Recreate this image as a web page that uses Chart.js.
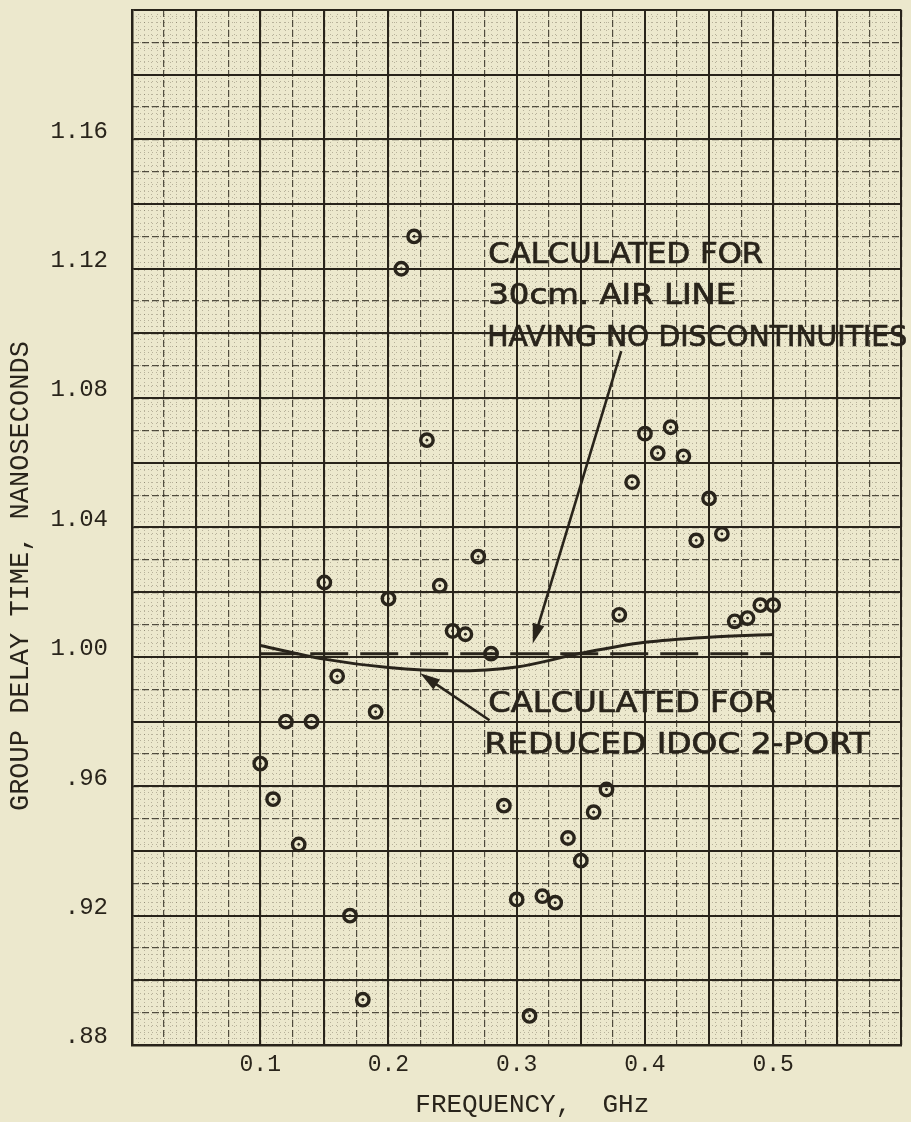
<!DOCTYPE html>
<html>
<head>
<meta charset="utf-8">
<script src="https://cdn.jsdelivr.net/npm/chart.js@4.4.0/dist/chart.umd.min.js"></script>
<style>
  html, body { margin: 0; padding: 0; background: #ece8cd; overflow: hidden; }
</style>
</head>
<body>
<canvas id="myChart" width="911" height="1122"></canvas>
<script>
// measured group delay, one reading every 0.01 GHz
const frequency = [
  0.10, 0.11, 0.12, 0.13, 0.14, 0.15, 0.16, 0.17, 0.18, 0.19,
  0.20, 0.21, 0.22, 0.23, 0.24, 0.25, 0.26, 0.27, 0.28, 0.29,
  0.30, 0.31, 0.32, 0.33, 0.34, 0.35, 0.36, 0.37, 0.38, 0.39,
  0.40, 0.41, 0.42, 0.43, 0.44, 0.45, 0.46, 0.47, 0.48, 0.49,
  0.50
];
const groupDelay = [
  0.967, 0.956, 0.980, 0.942, 0.980, 1.023, 0.994, 0.920, 0.894, 0.983,
  1.018, 1.120, 1.130, 1.067, 1.022, 1.008, 1.007, 1.031, 1.001, 0.954,
  0.925, 0.889, 0.926, 0.924, 0.944, 0.937, 0.952, 0.959, 1.013, 1.054,
  1.069, 1.063, 1.071, 1.062, 1.036, 1.049, 1.038, 1.011, 1.012, 1.016,
  1.016
];

// calculated for reduced IDOC 2-port
const idocFreq = [0.10, 0.15, 0.20, 0.25, 0.30, 0.35, 0.40, 0.45, 0.50];
const idocDelay = [1.0035, 0.9993, 0.9967, 0.9957, 0.9969, 1.0011, 1.0045, 1.0061, 1.0069];

// calculated for 30 cm air line
const airFreq = [0.10, 0.50];
const airDelay = [1.001, 1.001];

const xTicks = [0.1, 0.2, 0.3, 0.4, 0.5];
const yTicks = [0.88, 0.92, 0.96, 1.00, 1.04, 1.08, 1.12, 1.16];

const ink = '#29241b';
const paper = '#ece8cd';

function pairs(xs, ys) {
  return xs.map((v, i) => ({x: v, y: ys[i]}));
}

function findTick(list, v) {
  return list.find(t => Math.abs(t - v) < 1e-6);
}

// no automatic label padding, the plot area is set by layout.padding
function noPad(s) {
  s.paddingTop = 0;
  s.paddingBottom = 0;
  s.paddingLeft = 0;
  s.paddingRight = 0;
}

// extra scales only used to draw the graph paper rulings
function ruling(axis, step, color, width, dash, z) {
  return {
    type: 'linear',
    position: axis === 'x' ? 'bottom' : 'left',
    min: axis === 'x' ? 0 : 0.88,
    max: axis === 'x' ? 0.6 : 1.20,
    ticks: {display: false, stepSize: step},
    grid: {color: color, lineWidth: width, drawTicks: false, z: z},
    border: {display: false, dash: dash},
    afterFit: s => {
      if (axis === 'x') s.height = 0; else s.width = 0;
      noPad(s);
    }
  };
}

const paperPlugin = {
  id: 'paper',
  beforeDraw(chart) {
    const ctx = chart.ctx;
    ctx.save();
    ctx.fillStyle = paper;
    ctx.fillRect(0, 0, chart.width, chart.height);
    ctx.restore();
  }
};

function letter(ctx, text, px, py, w) {
  ctx.save();
  const m = ctx.measureText(text).width;
  ctx.translate(px, py);
  ctx.scale(w / m, 1);
  ctx.fillText(text, 0, 0);
  ctx.lineWidth = 0.7;
  ctx.strokeText(text, 0, 0);
  ctx.restore();
}

function arrow(ctx, x1, y1, x2, y2) {
  const a = Math.atan2(y2 - y1, x2 - x1);
  const len = 20, half = 6;
  ctx.beginPath();
  ctx.moveTo(x1, y1);
  ctx.lineTo(x2 - Math.cos(a) * len * 0.6, y2 - Math.sin(a) * len * 0.6);
  ctx.stroke();
  ctx.beginPath();
  ctx.moveTo(x2, y2);
  ctx.lineTo(x2 - Math.cos(a) * len - Math.sin(a) * half, y2 - Math.sin(a) * len + Math.cos(a) * half);
  ctx.lineTo(x2 - Math.cos(a) * len + Math.sin(a) * half, y2 - Math.sin(a) * len - Math.cos(a) * half);
  ctx.closePath();
  ctx.fill();
}

const notesPlugin = {
  id: 'notes',
  afterDatasetsDraw(chart) {
    const {ctx, scales: {x, y}} = chart;
    ctx.save();
    ctx.fillStyle = ink;
    ctx.strokeStyle = ink;
    ctx.font = '28px "DejaVu Sans"';
    ctx.textBaseline = 'alphabetic';

    letter(ctx, 'CALCULATED FOR', x.getPixelForValue(0.2778), y.getPixelForValue(1.1217), 275);
    letter(ctx, '30cm. AIR LINE', x.getPixelForValue(0.2778), y.getPixelForValue(1.1090), 248);
    letter(ctx, 'HAVING NO DISCONTINUITIES', x.getPixelForValue(0.2770), y.getPixelForValue(1.0960), 420);
    letter(ctx, 'CALCULATED FOR', x.getPixelForValue(0.2778), y.getPixelForValue(0.9829), 288);
    letter(ctx, 'REDUCED IDOC 2-PORT', x.getPixelForValue(0.2749), y.getPixelForValue(0.9702), 385);

    ctx.lineWidth = 2.6;
    arrow(ctx, x.getPixelForValue(0.3815), y.getPixelForValue(1.0945),
               x.getPixelForValue(0.3125), y.getPixelForValue(1.0041));
    arrow(ctx, x.getPixelForValue(0.2788), y.getPixelForValue(0.9804),
               x.getPixelForValue(0.2247), y.getPixelForValue(0.9949));
    ctx.restore();
  }
};

const data = {
  datasets: [
    {
      label: 'Measured',
      data: pairs(frequency, groupDelay),
      showLine: false,
      pointRadius: 6.2,
      pointBorderWidth: 3.4,
      pointBorderColor: ink,
      pointBackgroundColor: 'rgba(0,0,0,0)'
    },
    {
      label: 'Measured centre',
      data: pairs(frequency, groupDelay),
      showLine: false,
      pointRadius: 1.4,
      pointBorderWidth: 0,
      pointBackgroundColor: ink
    },
    {
      label: 'IDOC 2-port',
      data: pairs(idocFreq, idocDelay),
      showLine: true,
      borderColor: ink,
      borderWidth: 3,
      pointRadius: 0,
      cubicInterpolationMode: 'monotone'
    },
    {
      label: 'Air line',
      data: pairs(airFreq, airDelay),
      showLine: true,
      borderColor: ink,
      borderWidth: 3,
      borderDash: [38, 12],
      pointRadius: 0
    }
  ]
};

const config = {
  type: 'scatter',
  data: data,
  options: {
    responsive: false,
    animation: false,
    devicePixelRatio: 1,
    layout: {padding: {top: 10, right: 2, left: 0, bottom: 0}},
    plugins: {legend: {display: false}, tooltip: {enabled: false}},
    scales: {
      xFine: ruling('x', 0.005, 'rgba(70,62,48,0.32)', 1, [1, 3], -3),
      yFine: ruling('y', 0.002, 'rgba(70,62,48,0.32)', 1, [1, 3], -3),
      xMid: ruling('x', 0.025, 'rgba(45,40,30,0.8)', 1.2, [7, 3], -2),
      yMid: ruling('y', 0.01, 'rgba(45,40,30,0.8)', 1.2, [7, 3], -2),
      x: {
        type: 'linear',
        position: 'bottom',
        min: 0,
        max: 0.6,
        ticks: {
          stepSize: 0.05,
          autoSkip: false,
          maxRotation: 0,
          padding: 6,
          color: ink,
          font: {family: 'Liberation Mono', size: 23},
          callback: v => { const t = findTick(xTicks, v); return t === undefined ? '' : t.toFixed(1); }
        },
        grid: {color: ink, lineWidth: 2, drawTicks: false, z: -1},
        border: {display: true, color: ink, width: 2.5},
        title: {
          display: true,
          // leading blanks nudge the typed label right, as on the sheet
          text: '  FREQUENCY,  GHz',
          color: ink,
          font: {family: 'Liberation Mono', size: 26},
          padding: {top: 0, bottom: 1}
        },
        afterFit: s => { s.height = 77; noPad(s); }
      },
      y: {
        type: 'linear',
        position: 'left',
        min: 0.88,
        max: 1.20,
        ticks: {
          stepSize: 0.02,
          autoSkip: false,
          padding: 24,
          labelOffset: -8,
          color: ink,
          font: {family: 'Liberation Mono', size: 24},
          callback: v => {
            const t = findTick(yTicks, v);
            if (t === undefined) return '';
            return t < 1 ? t.toFixed(2).slice(1) : t.toFixed(2);
          }
        },
        grid: {color: ink, lineWidth: 2, drawTicks: false, z: -1},
        border: {display: true, color: ink, width: 2.5},
        title: {
          display: true,
          // trailing blanks push the rotated title down, as on the original sheet
          text: 'GROUP DELAY TIME, NANOSECONDS      ',
          color: ink,
          font: {family: 'Liberation Mono', size: 27},
          padding: {top: 5, bottom: 0}
        },
        afterFit: s => { s.width = 132; noPad(s); }
      }
    }
  },
  plugins: [paperPlugin, notesPlugin]
};

const myChart = new Chart(document.getElementById('myChart'), config);
</script>
</body>
</html>
